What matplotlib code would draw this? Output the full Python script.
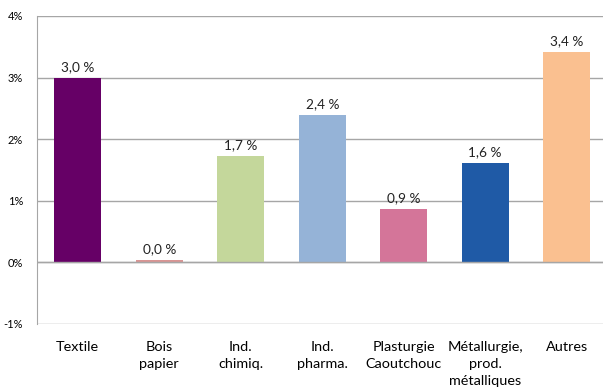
import matplotlib.pyplot as plt
from matplotlib.ticker import FuncFormatter

# Sector growth figures (%)
sectors = ["Textile", "Bois\npapier", "Ind.\nchimiq.", "Ind.\npharma.",
           "Plasturgie\nCaoutchouc", "Métallurgie,\nprod.\nmétalliques", "Autres"]
growth = [3.0, 0.04, 1.72, 2.39, 0.86, 1.62, 3.41]
colors = ["#660066", "#D99594", "#C4D79B", "#95B3D7", "#D47599", "#1F5AA6", "#FAC090"]

plt.rcParams["font.family"] = ["Lato", "DejaVu Sans"]

fig = plt.figure(figsize=(6.03, 3.91), dpi=100)
# axes runs slightly past the right edge of the figure
ax = fig.add_axes([37 / 603, 1 - 324 / 391, 570.5 / 603, 308 / 391])

x = range(len(sectors))
bars = ax.bar(x, growth, width=0.577, color=colors, zorder=3)

for b, v in zip(bars, growth):
    ax.text(b.get_x() + b.get_width() / 2, v + 0.08,
            f"{v:.1f} %".replace(".", ","),
            ha="center", va="bottom", fontsize=9.8, color="#222222")

ax.set_xlim(-0.5, len(sectors) - 0.5)
ax.set_ylim(-1, 4)
ax.set_yticks(range(-1, 5))
ax.yaxis.set_major_formatter(FuncFormatter(lambda v, p: f"{v:.0f}%"))
ax.set_xticks(list(x))
ax.set_xticklabels(sectors, fontsize=10.4, linespacing=1.5, va="top")

ax.grid(axis="y", color="#A6A6A6", linewidth=1, zorder=0)
ax.axhline(0, color="#A6A6A6", linewidth=1, zorder=4)
for s in ["top", "right", "bottom"]:
    ax.spines[s].set_visible(False)
ax.spines["left"].set_color("#A6A6A6")
ax.tick_params(axis="y", length=0, labelsize=8, pad=10)
ax.tick_params(axis="x", length=0, pad=12)

fig.savefig("out.png", dpi=100)
